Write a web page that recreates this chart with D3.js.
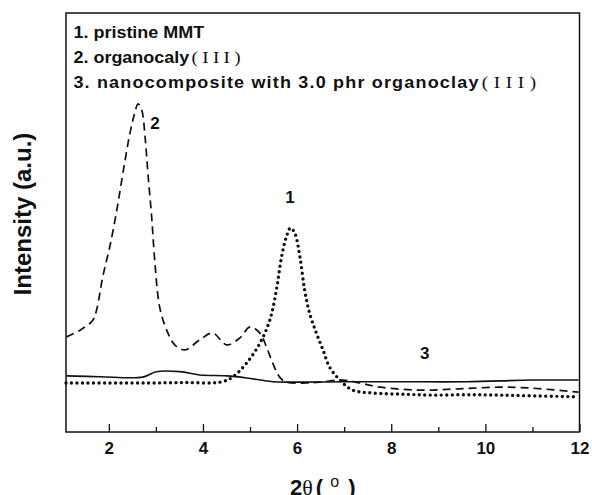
<!DOCTYPE html>
<html>
<head>
<meta charset="utf-8">
<script src="https://cdn.jsdelivr.net/npm/d3@7"></script>
<style>
  html, body { margin: 0; padding: 0; background: #fff; }
  svg { display: block; }
</style>
</head>
<body>
<div id="chart"></div>
<script>
// 2-theta (degrees) and intensity (a.u.)
const pristineX = [1.09, 2.0, 2.87, 3.6, 4.36, 4.63, 4.93, 5.21, 5.42, 5.56, 5.67, 5.77, 5.86, 5.95, 6.06, 6.16, 6.27, 6.41, 6.55, 6.69, 6.91, 7.18, 7.61, 8.3, 8.88, 9.6, 10.3, 11.1, 11.98];
const pristineY = [11.7, 11.7, 11.7, 11.8, 11.9, 13.1, 16.5, 21.2, 26.7, 33.9, 41.8, 46.5, 48.7, 47.5, 41.8, 33.9, 28.2, 23.6, 19.6, 15.5, 12.4, 10.0, 9.3, 9.0, 8.8, 8.9, 8.8, 8.6, 8.4];

const organoX = [1.10, 1.39, 1.66, 1.74, 1.87, 2.02, 2.17, 2.30, 2.45, 2.55, 2.62, 2.70, 2.77, 2.83, 2.91, 2.98, 3.08, 3.23, 3.40, 3.62, 3.93, 4.21, 4.50, 4.78, 5.00, 5.21, 5.35, 5.48, 5.63, 5.77, 6.20, 6.48, 6.97, 7.33, 7.76, 8.60, 9.45, 10.30, 10.94, 11.98];
const organoY = [22.7, 24.3, 26.7, 29.1, 37.0, 44.2, 53.0, 61.8, 71.4, 76.1, 78.3, 76.8, 70.4, 61.8, 51.3, 40.3, 29.8, 24.3, 20.8, 19.6, 22.0, 23.6, 20.8, 22.4, 25.1, 23.6, 20.3, 16.5, 13.1, 11.9, 11.7, 11.9, 12.4, 11.7, 10.7, 10.0, 10.3, 10.7, 10.5, 9.5];

const compositeX = [1.10, 1.81, 2.72, 3.01, 3.51, 3.93, 4.50, 4.93, 5.48, 5.91, 6.97, 8.18, 9.60, 11.0, 11.98];
const compositeY = [13.4, 13.2, 13.1, 14.4, 14.4, 13.6, 13.4, 12.9, 12.0, 11.9, 12.0, 12.0, 12.0, 12.4, 12.4];

const xTicks = [2, 4, 6, 8, 10, 12];
const xMinorTicks = [3, 5, 7, 9, 11];
const legendLines = ['1. pristine MMT', '2. organocaly', '3. nanocomposite with 3.0 phr organoclay'];
const peakLabels = ['1', '2', '3'];
const peakLabelX = [5.85, 2.98, 8.71];
const peakLabelY = [54.7, 72.2, 17.4];

const width = 592, height = 495;
const margin = {top: 13, right: 12.5, bottom: 63, left: 66};
const iw = width - margin.left - margin.right;
const ih = height - margin.top - margin.bottom;

const svg = d3.select('#chart').append('svg')
  .attr('width', width)
  .attr('height', height);

const g = svg.append('g').attr('transform', `translate(${margin.left},${margin.top})`);

const x = d3.scaleLinear().domain([1.09, 12]).range([0, iw]);
const y = d3.scaleLinear().domain([0, 100]).range([ih, 0]);

const line = d3.line()
  .x(d => x(d[0]))
  .y(d => y(d[1]))
  .curve(d3.curveCatmullRom.alpha(0.5));

// curves
g.append('path')
  .datum(d3.zip(compositeX, compositeY))
  .attr('fill', 'none')
  .attr('stroke', '#111')
  .attr('stroke-width', 1.6)
  .attr('d', line);

g.append('path')
  .datum(d3.zip(organoX, organoY))
  .attr('fill', 'none')
  .attr('stroke', '#111')
  .attr('stroke-width', 1.7)
  .attr('stroke-dasharray', '8 5')
  .attr('d', line);

g.append('path')
  .datum(d3.zip(pristineX, pristineY))
  .attr('fill', 'none')
  .attr('stroke', '#111')
  .attr('stroke-width', 3.4)
  .attr('stroke-linecap', 'round')
  .attr('stroke-dasharray', '0 5.5')
  .attr('d', line);

// frame
g.append('rect')
  .attr('width', iw).attr('height', ih)
  .attr('fill', 'none')
  .attr('stroke', '#111')
  .attr('stroke-width', 1.5);

// x axis (ticks pointing inward)
const xAxis = g.append('g')
  .attr('transform', `translate(0,${ih})`)
  .call(d3.axisBottom(x).tickValues(xTicks).tickSize(-8).tickPadding(10).tickFormat(d3.format('d')));
xAxis.select('.domain').remove();
xAxis.selectAll('line').attr('stroke', '#111').attr('stroke-width', 1.3);
xAxis.selectAll('text')
  .attr('fill', '#111')
  .style('font-family', 'Liberation Sans, Arial, sans-serif')
  .style('font-weight', 'bold')
  .style('font-size', '17px');

g.append('g')
  .attr('transform', `translate(0,${ih})`)
  .call(d3.axisBottom(x).tickValues(xMinorTicks).tickSize(-5).tickFormat(''))
  .call(a => a.select('.domain').remove())
  .selectAll('line').attr('stroke', '#111').attr('stroke-width', 1.3);

// axis titles
const xt = svg.append('text')
  .attr('x', margin.left + iw / 2)
  .attr('y', 495)
  .attr('text-anchor', 'middle')
  .attr('fill', '#111')
  .style('font-family', 'Liberation Sans, Arial, sans-serif')
  .style('font-size', '22px');
xt.append('tspan').style('font-weight', 'bold').text('2');
xt.append('tspan').style('font-family', 'Liberation Serif, serif').text('θ');
xt.append('tspan').style('font-weight', 'bold').attr('dx', 3).text('( ');
xt.append('tspan').attr('dy', -8).attr('dx', 1).style('font-size', '16px').text('o');
xt.append('tspan').attr('dy', 8).attr('dx', 3).style('font-weight', 'bold').text(' )');

svg.append('text')
  .attr('transform', 'translate(31,214) rotate(-90)')
  .attr('text-anchor', 'middle')
  .attr('fill', '#111')
  .style('font-family', 'Liberation Sans, Arial, sans-serif')
  .style('font-weight', 'bold')
  .style('font-size', '24px')
  .text('Intensity (a.u.)');

// legend text (the original type is a little wider than Arial, so stretch it)
const legend = g.append('g').attr('transform', 'translate(7.4,0) scale(1.125,1)');
legendLines.forEach((t, i) => {
  const tx = legend.append('text')
    .attr('x', 0)
    .attr('y', 25 + i * 25)
    .attr('fill', '#111')
    .style('font-family', 'Liberation Sans, Arial, sans-serif')
    .style('font-weight', 'bold')
    .style('font-size', '16px');
  const main = tx.append('tspan').text(t);
  // last line is set a bit looser in the original
  if (i === 2) main.attr('textLength', 360).attr('lengthAdjust', 'spacing');
  if (i > 0) {
    tx.append('tspan')
      .attr('dx', 2)
      .style('font-family', 'Liberation Serif, serif')
      .style('font-weight', 'normal')
      .style('font-size', '17px')
      .style('letter-spacing', i === 2 ? '5px' : '3.8px')
      .text('(III)');
  }
});

// curve numbers
g.selectAll('.peak')
  .data(peakLabels)
  .join('text')
  .attr('class', 'peak')
  .attr('x', (d, i) => x(peakLabelX[i]))
  .attr('y', (d, i) => y(peakLabelY[i]))
  .attr('text-anchor', 'middle')
  .attr('fill', '#111')
  .style('font-family', 'Liberation Sans, Arial, sans-serif')
  .style('font-weight', 'bold')
  .style('font-size', '17px')
  .text(d => d);
</script>
</body>
</html>
